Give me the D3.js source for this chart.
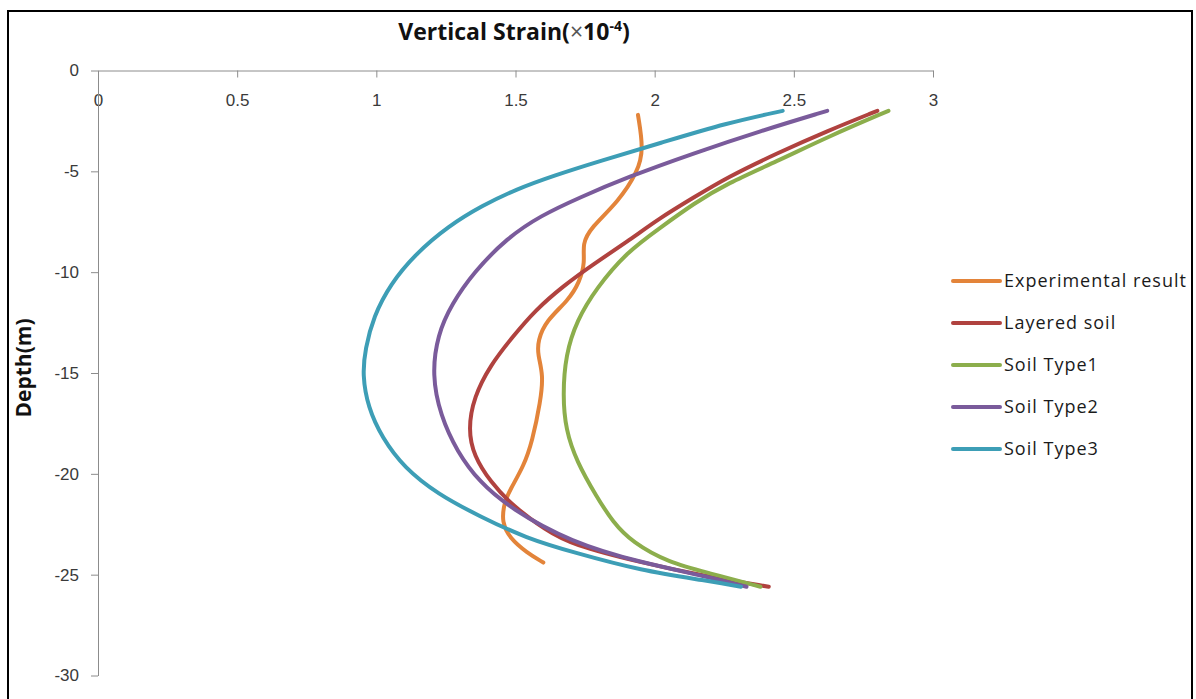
<!DOCTYPE html>
<html>
<head>
<meta charset="utf-8">
<script src="https://cdn.jsdelivr.net/npm/d3@7"></script>
<style>
  body { margin: 0; background: #fff; }
  svg { display: block; font-family: "Open Sans", "Noto Sans", sans-serif; }
  .tick text { fill: #3a3a3a; }
  .tick line, .domain { stroke: #8c8c8c; }
</style>
</head>
<body>
<svg></svg>
<script>
// Series: [strain (x10^-4), depth (m)]
const experimental = [
  [1.94, -2.2], [1.96, -3.9], [1.94, -5.0], [1.87, -6.5], [1.77, -7.8], [1.74, -8.6],
  [1.75, -9.5], [1.73, -10.5], [1.69, -11.4], [1.61, -12.4], [1.58, -13.4], [1.58, -14.1],
  [1.60, -15.1], [1.59, -16.4], [1.56, -18.4], [1.53, -19.6], [1.48, -20.8], [1.46, -21.4],
  [1.45, -22.4], [1.48, -23.2], [1.54, -23.9], [1.60, -24.4]
];
const layered = [
  [2.80, -2.0], [2.62, -3.0], [2.44, -4.1], [2.26, -5.3], [2.14, -6.3], [2.02, -7.3],
  [1.90, -8.5], [1.78, -9.6], [1.67, -10.7], [1.57, -11.9], [1.49, -13.2], [1.41, -14.6],
  [1.35, -16.2], [1.33, -17.8], [1.35, -19.1], [1.41, -20.4], [1.49, -21.6], [1.61, -22.8],
  [1.70, -23.5], [1.95, -24.4], [2.19, -25.1], [2.41, -25.6]
];
const soilType1 = [
  [2.84, -2.0], [2.62, -3.3], [2.44, -4.5], [2.26, -5.6], [2.14, -6.6], [2.02, -7.8],
  [1.90, -9.0], [1.79, -10.8], [1.72, -12.4], [1.68, -14.1], [1.67, -16.1], [1.68, -17.8],
  [1.72, -19.4], [1.79, -21.1], [1.85, -22.4], [1.92, -23.4], [2.05, -24.4], [2.19, -24.9],
  [2.38, -25.6]
];
const soilType2 = [
  [2.62, -2.0], [2.38, -3.0], [2.14, -4.1], [1.90, -5.3], [1.73, -6.3], [1.59, -7.2],
  [1.47, -8.3], [1.35, -10.0], [1.27, -11.6], [1.22, -13.1], [1.20, -15.1], [1.23, -17.1],
  [1.29, -18.9], [1.37, -20.4], [1.48, -21.7], [1.70, -23.4], [1.95, -24.4], [2.19, -25.1],
  [2.33, -25.6]
];
const soilType3 = [
  [2.46, -2.0], [2.26, -2.6], [2.02, -3.6], [1.80, -4.5], [1.64, -5.2], [1.50, -5.9],
  [1.38, -6.7], [1.26, -7.7], [1.14, -9.1], [1.05, -10.6], [0.99, -12.2], [0.96, -13.8],
  [0.95, -15.1], [0.97, -16.7], [1.02, -18.2], [1.10, -19.7], [1.22, -21.0], [1.37, -22.1],
  [1.54, -23.2], [1.71, -23.9], [1.95, -24.8], [2.19, -25.3], [2.31, -25.6]
];

const seriesNames = ["Experimental result", "Layered soil", "Soil Type1", "Soil Type2", "Soil Type3"];
const seriesData = [experimental, layered, soilType1, soilType2, soilType3];
const seriesColors = ["#e3843a", "#b0423f", "#8cae4c", "#7a5b9b", "#3d9eb6"];

const xTicks = [0, 0.5, 1, 1.5, 2, 2.5, 3];
const yTicks = [0, -5, -10, -15, -20, -25, -30];

const w = 1196;
const h = 699;

const svg = d3.select("svg")
  .attr("width", w)
  .attr("height", h);

// outer frame
svg.append("rect")
  .attr("x", 8)
  .attr("y", 11)
  .attr("width", 1184)
  .attr("height", 710)
  .attr("fill", "none")
  .attr("stroke", "#000")
  .attr("stroke-width", 2);

const x = d3.scaleLinear().domain([0, 3]).range([98, 933]);
const y = d3.scaleLinear().domain([0, -30]).range([70.5, 675.5]);

// x axis sits on top, ticks point down, labels below the line
const xAxis = svg.append("g")
  .attr("transform", `translate(0,${y(0)})`)
  .call(d3.axisBottom(x).tickValues(xTicks).tickSizeInner(7).tickSizeOuter(0).tickPadding(16)
    .tickFormat(d3.format("")));
xAxis.selectAll(".tick text").attr("font-size", 17);

const yAxis = svg.append("g")
  .attr("transform", `translate(${x(0)},0)`)
  .call(d3.axisLeft(y).tickValues(yTicks).tickSizeInner(7).tickSizeOuter(0).tickPadding(12)
    .tickFormat(d => d === 0 ? "0" : "-" + Math.abs(d)));
yAxis.selectAll(".tick text").attr("font-size", 17);

// titles
const title = svg.append("text")
  .attr("x", 514)
  .attr("y", 40)
  .attr("text-anchor", "middle")
  .attr("font-size", 23)
  .attr("font-weight", "bold")
  .attr("fill", "#111");
title.append("tspan").text("Vertical Strain(");
title.append("tspan").attr("font-weight", "normal").attr("fill", "#555").text("×");
title.append("tspan").text("10");
title.append("tspan").attr("font-size", 14).attr("dy", -9).text("-4");
title.append("tspan").attr("dy", 9).text(")");

svg.append("text")
  .attr("transform", "translate(31,368) rotate(-90)")
  .attr("text-anchor", "middle")
  .attr("font-size", 21)
  .attr("font-weight", "bold")
  .attr("fill", "#111")
  .text("Depth(m)");

// curves
const line = d3.line()
  .x(d => x(d[0]))
  .y(d => y(d[1]))
  .curve(d3.curveBasis);

svg.append("g")
  .selectAll("path")
  .data(seriesData)
  .enter()
  .append("path")
  .attr("d", line)
  .attr("fill", "none")
  .attr("stroke", (d, i) => seriesColors[i])
  .attr("stroke-width", 4)
  .attr("stroke-linecap", "round")
  .attr("stroke-linejoin", "round");

// legend
const legend = svg.append("g")
  .selectAll("g")
  .data(seriesNames)
  .enter()
  .append("g")
  .attr("transform", (d, i) => `translate(953,${281 + i * 42})`);

legend.append("line")
  .attr("x1", 0)
  .attr("x2", 47)
  .attr("stroke", (d, i) => seriesColors[i])
  .attr("stroke-width", 4)
  .attr("stroke-linecap", "round");

legend.append("text")
  .attr("x", 51)
  .attr("dy", "0.35em")
  .attr("font-size", 18)
  .attr("letter-spacing", 1)
  .attr("fill", "#1a1a1a")
  .text(d => d);
</script>
</body>
</html>
